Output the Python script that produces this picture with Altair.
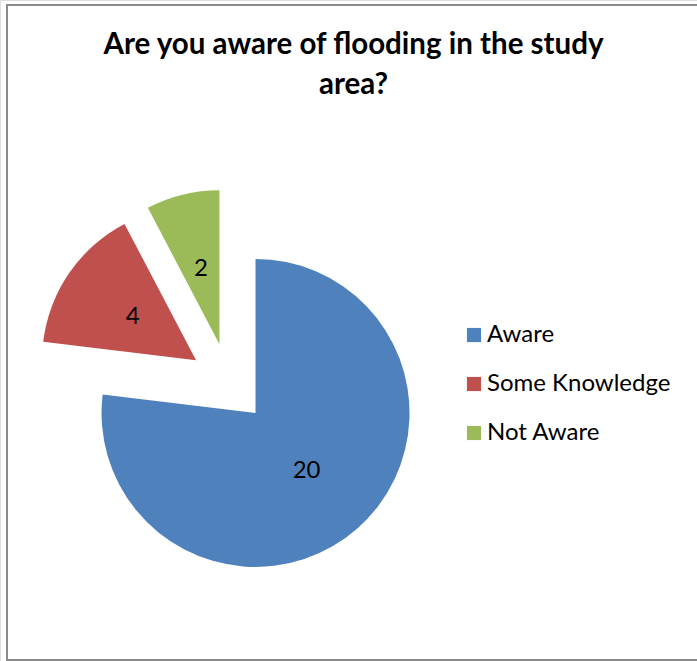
import altair as alt
import pandas as pd

# ---- data ----
categories = ["Aware", "Some Knowledge", "Not Aware"]
counts = [20, 4, 2]
colors = ["#4F81BD", "#C0504D", "#9BBB59"]
title_lines = ["Are you aware of flooding in the study", "area?"]

# ---- layout / style constants ----
W, H = 697, 661
CX, CY = 229, 383          # centre of the (unexploded) pie
R = 154                    # pie radius
EXPLODE = 40               # explosion distance of each slice
LABEL_R = EXPLODE + R * 0.5
FONT = "Lato"

df = pd.DataFrame({
    "category": categories,
    "count": counts,
    "order": list(range(len(categories))),
})

base = (
    alt.Chart(df)
    .transform_stack(
        stack="count", groupby=[], as_=["c0", "c1"],
        sort=[alt.SortField("order", order="ascending")],
    )
    .transform_joinaggregate(total="sum(count)")
    .transform_calculate(mid="(datum.c0 + datum.c1) / datum.total * PI")
    .transform_calculate(
        px=f"{CX} + {EXPLODE} * sin(datum.mid)",
        py=f"{CY} - {EXPLODE} * cos(datum.mid)",
        lx=f"{CX} + {LABEL_R} * sin(datum.mid)",
        ly=f"{CY} - {LABEL_R} * cos(datum.mid)",
    )
)

arcs = base.mark_arc(radius=R).encode(
    x=alt.X("px:Q", scale=None),
    y=alt.Y("py:Q", scale=None),
    theta=alt.Theta("c0:Q", scale=alt.Scale(domain=[0, sum(counts)])),
    theta2=alt.Theta2("c1:Q"),
    color=alt.Color(
        "category:N",
        sort=categories,
        scale=alt.Scale(domain=categories, range=colors),
        legend=alt.Legend(
            title=None,
            orient="none",
            legendX=462,
            legendY=323,
            symbolType="square",
            symbolSize=200,
            symbolStrokeWidth=0,
            labelFont=FONT,
            labelFontSize=24,
            labelColor="black",
            labelOffset=1,
            labelLimit=400,
            rowPadding=25,
            padding=0,
        ),
    ),
)

labels = base.mark_text(
    font=FONT, fontSize=24, color="black", align="center", baseline="middle"
).encode(
    x=alt.X("lx:Q", scale=None),
    y=alt.Y("ly:Q", scale=None),
    text=alt.Text("count:Q"),
)

border = alt.Chart(pd.DataFrame({"k": [0]})).mark_rect(
    fill="transparent", stroke="#8a8a8a", strokeWidth=2
).encode(
    x=alt.value(7), x2=alt.value(715), y=alt.value(5), y2=alt.value(660)
)

chart = (
    alt.layer(border, arcs, labels)
    .properties(
        width=W,
        height=H,
        padding=0,
        autosize=alt.AutoSizeParams(type="none"),
        title=alt.TitleParams(
            text=title_lines,
            font=FONT,
            fontSize=29.5,
            fontWeight="bold",
            color="black",
            anchor="middle",
            frame="group",
            baseline="alphabetic",
            offset=-123,
            lineHeight=40,
            dx=5,
        ),
    )
    .configure_view(strokeWidth=0)
    .configure(background="white")
)

chart.save("out.html", embed_options={"renderer": "svg", "actions": False})
